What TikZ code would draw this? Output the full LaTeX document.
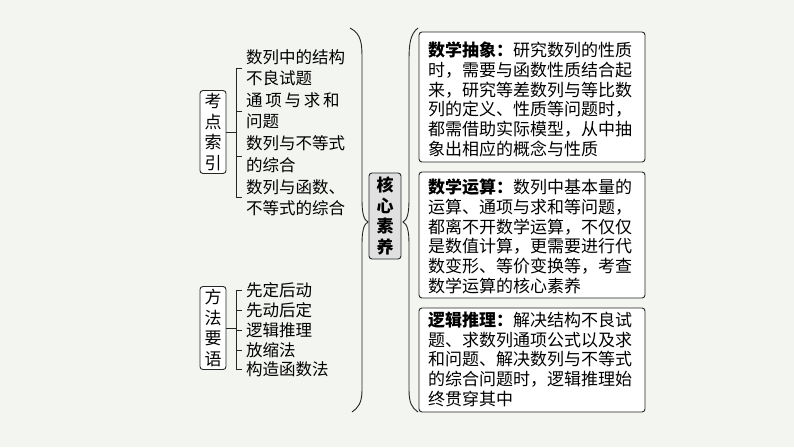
\documentclass[tikz,border=0pt]{standalone}
\usepackage{fontspec}
\setmainfont{Noto Sans CJK SC}
\begin{document}
\begin{tikzpicture}[x=1pt,y=-1pt,
  box/.style={draw=black!85,line width=0.9pt,rounded corners=3pt,fill=white},
  vbox/.style={box,minimum width=26pt,inner sep=0pt},
  ln/.style={line width=0.9pt,black!85},
  txt/.style={anchor=west,inner sep=0pt,font=\fontsize{16.5}{21.5}\selectfont},
  ptxt/.style={anchor=north west,align=left,inner sep=0pt,font=\fontsize{17}{19.8}\selectfont}]
\fill[fill={rgb,255:red,243;green,245;blue,241}] (0,0) rectangle (794,447);
\useasboundingbox (0,0) rectangle (794,447);
% left boxes
\node[vbox,minimum height=83pt,align=center,font=\fontsize{17}{20.5}\selectfont] (kd) at (213,132) {考\\点\\索\\引};
\node[vbox,minimum height=83pt,align=center,font=\fontsize{17}{20.5}\selectfont] (ff) at (213,328) {方\\法\\要\\语};
% upper bracket
\coordinate (b1) at (236,68); \coordinate (b2) at (236,111); \coordinate (b3) at (236,156); \coordinate (b4) at (236,197);
\draw[ln] (kd.east |- 0,132) -- (236,132);
\draw[ln] (242,68) -- (b1) -- (b4) -- (242,197);
\draw[ln] (b2) -- (242,111); \draw[ln] (b3) -- (242,156);
\node[txt] (t1) at (246,57) {数列中的结构};
\node[txt] (t2) at (246,78) {不良试题};
\node[txt] (t3) at (246,100) {通\,项\,与\,求\,和};
\node[txt] (t4) at (246,121) {问题};
\node[txt] (t5) at (246,143) {数列与不等式};
\node[txt] (t6) at (246,165) {的综合};
\node[txt] (t7) at (246,187) {数列与函数、};
\node[txt] (t8) at (246,208) {不等式的综合};
% lower bracket
\draw[ln] (ff.east |- 0,328) -- (236,328);
\draw[ln] (242,290) -- (236,290) -- (236,369) -- (242,369);
\draw[ln] (236,310) -- (242,310); \draw[ln] (236,330) -- (242,330); \draw[ln] (236,350) -- (242,350);
\node[txt] (u1) at (246,290) {先定后动};
\node[txt] (u2) at (246,310) {先动后定};
\node[txt] (u3) at (246,330) {逻辑推理};
\node[txt] (u4) at (246,350) {放缩法};
\node[txt] (u5) at (246,369) {构造函数法};
% braces
\draw[ln] (350,28) .. controls (362,34) and (362,45) .. (362,60) -- (362,200) .. controls (362,214) and (364,220) .. (368,222) .. controls (364,224) and (362,230) .. (362,244) -- (362,390) .. controls (362,403) and (358,408) .. (352,412);
\draw[ln] (418,28) .. controls (410,34) and (409,45) .. (409,60) -- (409,200) .. controls (409,214) and (407,220) .. (403,222) .. controls (407,224) and (409,230) .. (409,244) -- (409,390) .. controls (409,403) and (412,408) .. (418,412);
\node[box,fill=black!12,minimum width=32pt,minimum height=86pt,inner sep=0pt,align=center,font=\bfseries\fontsize{17}{20.5}\selectfont] (hx) at (385,216) {核\\心\\素\\养};
% right boxes
\node[box,minimum width=226pt,minimum height=130pt] (r1) at (532,97) {};
\node[box,minimum width=226pt,minimum height=126pt] (r2) at (532,235) {};
\node[box,minimum width=226pt,minimum height=104pt] (r3) at (532,360) {};
\node[ptxt] at (428,41.5) {\textbf{数学抽象：}研究数列的性质\\时，需要与函数性质结合起\\来，研究等差数列与等比数\\列的定义、性质等问题时，\\都需借助实际模型，从中抽\\象出相应的概念与性质};
\node[ptxt] at (428,178.5) {\textbf{数学运算：}数列中基本量的\\运算、通项与求和等问题，\\都离不开数学运算，不仅仅\\是数值计算，更需要进行代\\数变形、等价变换等，考查\\数学运算的核心素养};
\node[ptxt] at (428,311.5) {\textbf{逻辑推理：}解决结构不良试\\题、求数列通项公式以及求\\和问题、解决数列与不等式\\的综合问题时，逻辑推理始\\终贯穿其中};
\end{tikzpicture}
\end{document}
